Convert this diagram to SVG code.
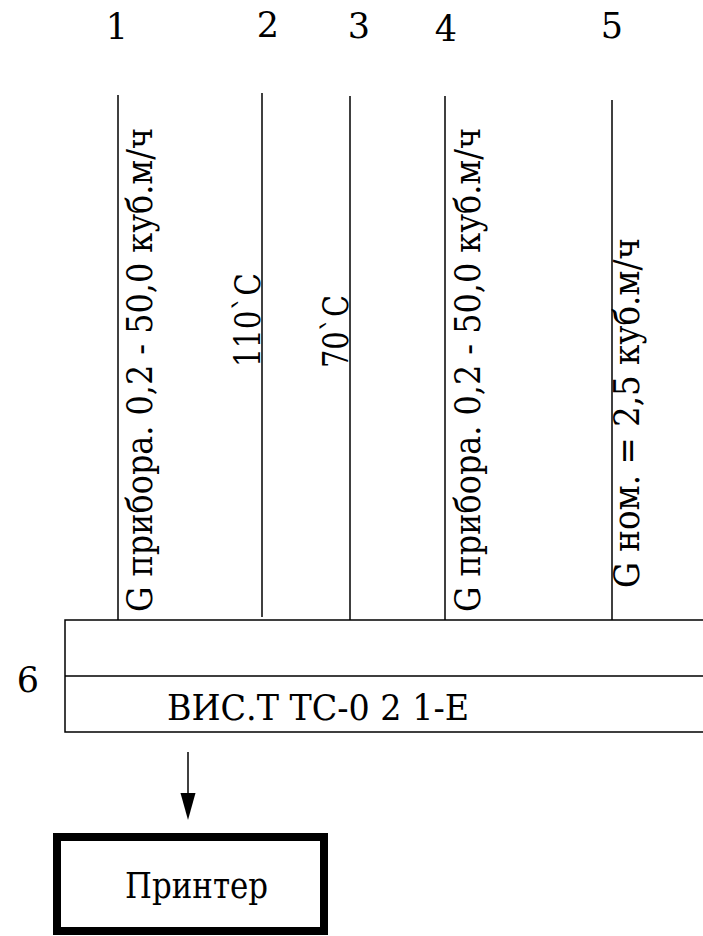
<svg xmlns="http://www.w3.org/2000/svg" width="703" height="936" viewBox="0 0 703 936">
<style>
text{font-family:'DejaVu Serif',serif;font-size:35px;fill:#000}
.c{font-stretch:condensed}
.ln{stroke:#000;stroke-width:1.5;fill:none}
</style>
<rect width="703" height="936" fill="#fff"/>
<g id="numbers">
<text x="117" y="39" text-anchor="middle">1</text>
<text x="268" y="37" text-anchor="middle">2</text>
<text x="359" y="38" text-anchor="middle">3</text>
<text x="446" y="41" text-anchor="middle">4</text>
<text x="612" y="38" text-anchor="middle">5</text>
<text x="28" y="692" text-anchor="middle">6</text>
</g>
<g id="line1">
<line class="ln" x1="118" y1="95" x2="118" y2="620"/>
<text style="font-family:'DejaVu Serif Condensed','DejaVu Serif',serif" transform="translate(152,612) rotate(-90)" textLength="484" lengthAdjust="spacingAndGlyphs">G прибора.  0,2 - 50,0 куб.м/ч</text>
</g>
<g id="line2">
<line class="ln" x1="262" y1="93" x2="262" y2="617"/>
<text class="c" transform="translate(260,367) rotate(-90)" textLength="94" lengthAdjust="spacingAndGlyphs">110`С</text>
</g>
<g id="line3">
<line class="ln" x1="350" y1="96" x2="350" y2="620"/>
<text class="c" transform="translate(348,368) rotate(-90)" textLength="73" lengthAdjust="spacingAndGlyphs">70`С</text>
</g>
<g id="line4">
<line class="ln" x1="445" y1="96" x2="445" y2="620"/>
<text class="c" transform="translate(480,612) rotate(-90)" textLength="484" lengthAdjust="spacingAndGlyphs">G прибора.  0,2 - 50,0 куб.м/ч</text>
</g>
<g id="line5">
<line class="ln" x1="612" y1="100" x2="612" y2="620"/>
<text class="c" transform="translate(639,588) rotate(-90)" textLength="350" lengthAdjust="spacingAndGlyphs">G ном. =  2,5 куб.м/ч</text>
</g>
<g id="block6">
<path class="ln" d="M703,620 H65 V732 H703 M65,676 H703"/>
<text class="c" x="167" y="720" textLength="302" lengthAdjust="spacingAndGlyphs">ВИС.Т ТС-0 2 1-Е</text>
</g>
<g id="connectors">
<line class="ln" x1="188" y1="752" x2="188" y2="795"/>
<polygon points="180.5,793 195.5,793 188,820" fill="#000"/>
</g>
<g id="printer">
<rect x="57" y="837" width="267" height="94" fill="none" stroke="#000" stroke-width="8"/>
<text class="c" x="125" y="898" textLength="143" lengthAdjust="spacingAndGlyphs">Принтер</text>
</g>
</svg>
